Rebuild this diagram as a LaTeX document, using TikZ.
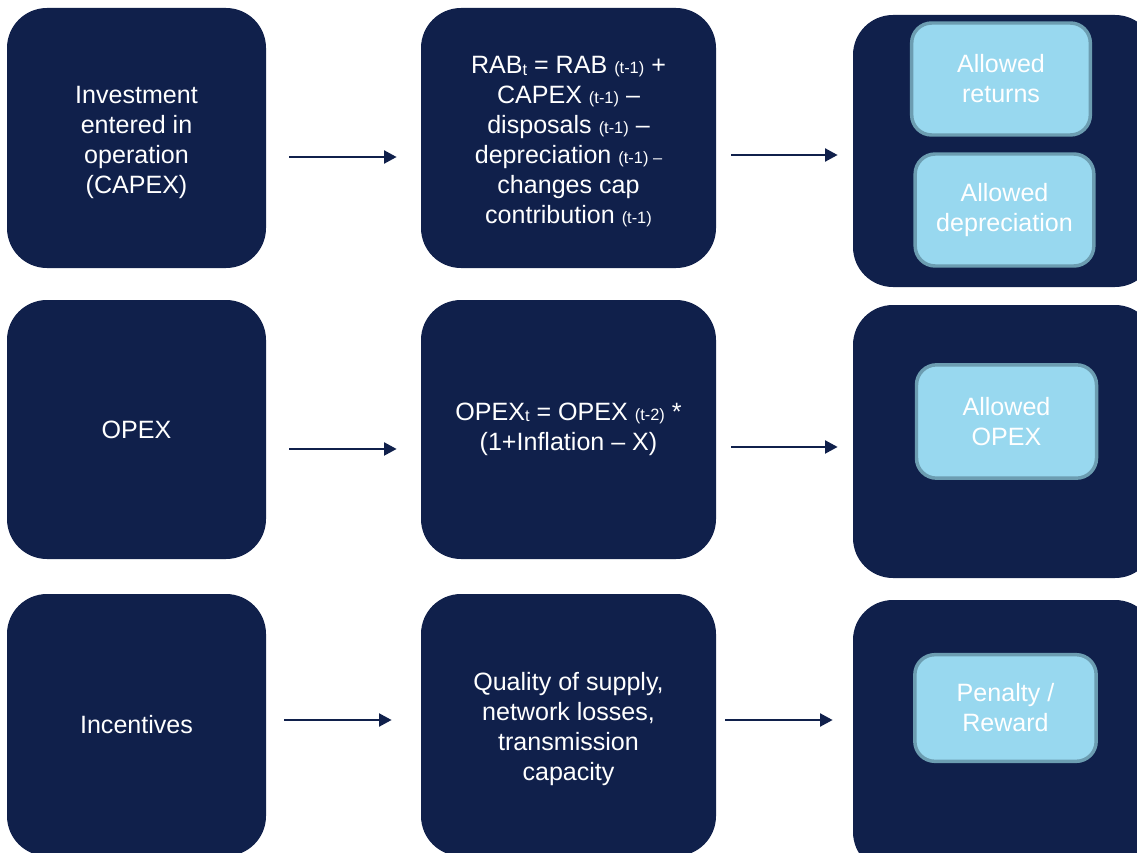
\documentclass[tikz,border=0pt]{standalone}
\usepackage{fontspec}
\setmainfont{Liberation Sans}
\usetikzlibrary{arrows.meta}
\definecolor{navy}{HTML}{10204B}
\definecolor{lightb}{HTML}{98D8EF}
\definecolor{lborder}{HTML}{6C9DB1}
\newcommand\subs[1]{{\fontsize{12.3}{12.3}\selectfont #1}}
\newcommand\tp{\rule{0pt}{19pt}}
\tikzset{
  dark/.style={fill=navy, draw=none, rounded corners=30pt, inner sep=0pt, text=white, align=center,
    font=\fontsize{18.8}{22.5}\selectfont},
  light/.style={fill=lightb, draw=lborder, line width=2.6pt, rounded corners=15pt, inner sep=0pt, text=white, align=center,
    font=\fontsize{18.8}{22.5}\selectfont},
  arr/.style={draw=navy, line width=2.2pt, -{Triangle[length=9.5pt,width=9.5pt]}}
}
\begin{document}
\begin{tikzpicture}[x=0.75pt,y=-0.75pt]
\useasboundingbox (0,0) rectangle (1137,852);
\clip (0,0) rectangle (1137,852);
% left column
\node[dark, minimum width=194.25pt, minimum height=195pt] (l1) at (136.5,138) {\tp Investment\\entered in\\operation\\(CAPEX)};
\node[dark, minimum width=194.25pt, minimum height=194.25pt] (l2) at (136.5,429.5) {OPEX};
\node[dark, minimum width=194.25pt, minimum height=196.5pt] (l3) at (136.5,725) {Incentives};
% middle column
\node[dark, minimum width=221.25pt, minimum height=195pt] (m1) at (568.5,138)
  {\tp RAB\raisebox{-1pt}{\subs{t}} = RAB \subs{(t-1)} +\\CAPEX \subs{(t-1)} --\\disposals \subs{(t-1)} --\\depreciation \subs{(t-1) --}\\changes cap\\contribution \subs{(t-1)}};
\node[dark, minimum width=221.25pt, minimum height=194.25pt] (m2) at (568.5,429.5)
  {OPEX\raisebox{-1pt}{\subs{t}} = OPEX \subs{(t-2)} *\\(1+Inflation -- X)};
\node[dark, minimum width=221.25pt, minimum height=196.5pt] (m3) at (568.5,725)
  {\tp Quality of supply,\\network losses,\\transmission\\capacity};
% right column
\node[dark, minimum width=226.5pt, minimum height=204pt] (r1) at (1004,151) {};
\node[dark, minimum width=226.5pt, minimum height=204.75pt] (r2) at (1004,441.5) {};
\node[dark, minimum width=226.5pt, minimum height=204pt] (r3) at (1004,736) {};
% inner boxes
\node[light, minimum width=134pt, minimum height=84pt] (a1) at (1001,79) {Allowed\\returns};
\node[light, minimum width=134pt, minimum height=84pt] (a2) at (1004.5,210) {Allowed\\depreciation};
\node[light, minimum width=135pt, minimum height=85pt] (a3) at (1006.5,421.5) {Allowed\\OPEX};
\node[light, minimum width=136pt, minimum height=80pt] (a4) at (1005.5,708) {Penalty /\\Reward};
% arrows
\draw[arr, shorten <=17.25pt, shorten >=18pt] ([yshift=-14.25pt]l1.east) -- ([yshift=-14.25pt]m1.west);
\draw[arr, shorten <=11.25pt, shorten >=11.25pt] ([yshift=-12.75pt]m1.east) -- ([yshift=-3pt]r1.west);
\draw[arr, shorten <=17.25pt, shorten >=18pt] ([yshift=-14.6pt]l2.east) -- ([yshift=-14.6pt]m2.west);
\draw[arr, shorten <=11.25pt, shorten >=11.25pt] ([yshift=-13.1pt]m2.east) -- ([yshift=-4.1pt]r2.west);
\draw[arr, shorten <=13.5pt, shorten >=21.75pt] ([yshift=3.75pt]l3.east) -- ([yshift=3.75pt]m3.west);
\draw[arr, shorten <=6.75pt, shorten >=15pt] ([yshift=3.75pt]m3.east) -- ([yshift=12pt]r3.west);
\end{tikzpicture}
\end{document}
